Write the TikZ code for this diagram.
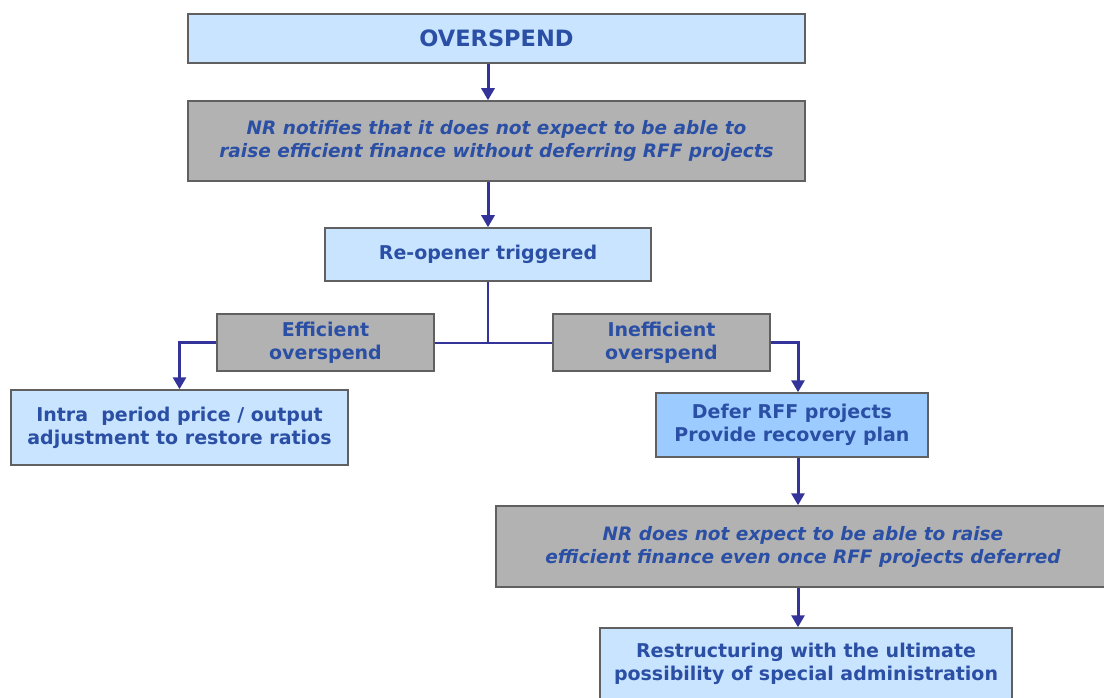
\documentclass[tikz,border=0pt]{standalone}
\usepackage{fontspec}
\setmainfont{DejaVu Sans}
\usetikzlibrary{arrows.meta}
\definecolor{txtblue}{HTML}{2A4FA4}
\definecolor{arrblue}{HTML}{33339A}
\definecolor{lightbox}{HTML}{C8E4FF}
\definecolor{midbox}{HTML}{9CCCFF}
\definecolor{greybox}{HTML}{B2B2B2}
\definecolor{edgegrey}{HTML}{606060}
\begin{document}
\begin{tikzpicture}[x=1pt,y=-1pt,
  box/.style={draw=edgegrey,line width=1.5pt,text=txtblue,align=center,inner sep=0pt,
    font=\bfseries\fontsize{19}{23}\selectfont},
  bluebox/.style={box,fill=lightbox},
  greyboxed/.style={box,fill=greybox},
  note/.style={greyboxed,font=\bfseries\itshape\fontsize{18.5}{23}\selectfont},
  arr/.style={arrblue,line width=3pt,-{Triangle[width=13pt,length=12pt]}},
  link/.style={arrblue,line width=2pt}]
  \useasboundingbox (0,0) rectangle (1104,698);

  \node[bluebox,minimum width=617pt,minimum height=49pt,
    font=\bfseries\fontsize{22.5}{26}\selectfont] (top) at (496.5,38.5) {OVERSPEND};
  \node[note,minimum width=617pt,minimum height=80pt] (nr1) at (496.5,141)
    {NR notifies that it does not expect to be able to\\raise efficient finance without deferring RFF projects};
  \node[bluebox,minimum width=326pt,minimum height=53pt] (reop) at (488,254.5) {Re-opener triggered};
  \node[greyboxed,minimum width=217pt,minimum height=57pt] (eff) at (325.5,342.5) {Efficient\\overspend};
  \node[greyboxed,minimum width=217pt,minimum height=57pt] (ineff) at (661.5,342.5) {Inefficient\\overspend};
  \node[bluebox,minimum width=337pt,minimum height=75pt] (intra) at (179.5,427.5)
    {Intra~ period price / output\\adjustment to restore ratios};
  \node[box,fill=midbox,minimum width=272pt,minimum height=64pt] (defer) at (792,425)
    {Defer RFF projects\\Provide recovery plan};
  \node[note,minimum width=614pt,minimum height=81pt] (nr2) at (803,546.5)
    {NR does not expect to be able to raise\\efficient finance even once RFF projects deferred};
  \node[bluebox,minimum width=412pt,minimum height=72pt] (restr) at (806,664)
    {Restructuring with the ultimate\\possibility of special administration};

  \coordinate (split) at (reop.south |- eff.east);
  \coordinate (right) at ([xshift=6pt]defer.north);

  \draw[arr] (top.south -| reop.north) -- (nr1.north -| reop.north);
  \draw[arr] (nr1.south -| reop.north) -- (reop.north);
  \draw[link] (reop.south) -- (split);
  \draw[link] (eff.east) -- (ineff.west);
  \draw[arr] (eff.west) -| (intra.north);
  \draw[arr] (ineff.east) -| (right);
  \draw[arr] (defer.south -| right) -- (nr2.north -| right);
  \draw[arr] (nr2.south -| right) -- (restr.north -| right);
\end{tikzpicture}
\end{document}
